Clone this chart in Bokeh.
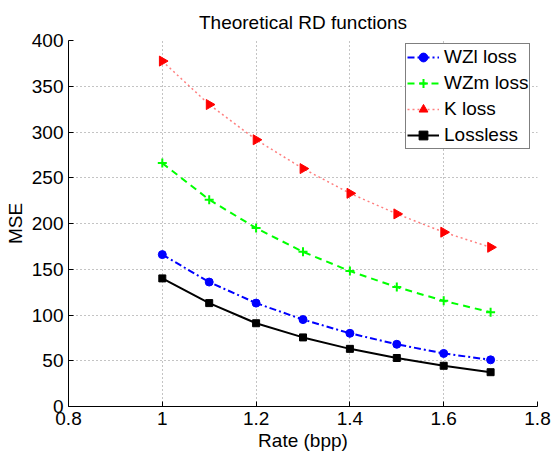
import math
from bokeh.plotting import figure
from bokeh.models import Range1d, FixedTicker, Legend
from bokeh.embed import file_html
from bokeh.resources import INLINE

rate = [1.0, 1.1, 1.2, 1.3, 1.4, 1.5, 1.6, 1.7]
wzl_loss = [166, 136, 113, 95, 80, 68, 58, 51]
wzm_loss = [266, 226, 195, 169, 148, 130.5, 115.5, 103]
k_loss = [377.5, 330, 291.5, 260, 233, 210.5, 190.5, 174]
lossless = [140, 113, 91, 75.5, 63, 53, 44.5, 37.5]
x_ticks = [0.8, 1.0, 1.2, 1.4, 1.6, 1.8]
y_ticks = [0, 50, 100, 150, 200, 250, 300, 350, 400]

FONT = "Liberation Sans"
FS = "19px"

p = figure(width=551, height=456, output_backend="svg", toolbar_location=None,
           x_range=Range1d(0.8, 1.8), y_range=Range1d(0, 400),
           min_border_left=68, min_border_right=14, min_border_top=40, min_border_bottom=50)

p.title.text = "Theoretical RD functions"
p.title.align = "center"
p.title.text_font = FONT
p.title.text_font_size = FS
p.title.text_font_style = "normal"
p.title.text_color = "black"
p.title.standoff = 16

p.outline_line_color = None

for ax, ticks in ((p.xaxis[0], x_ticks), (p.yaxis[0], y_ticks)):
    ax.ticker = FixedTicker(ticks=ticks)
    ax.major_tick_in = 5
    ax.major_tick_out = 0
    ax.minor_tick_in = 0
    ax.minor_tick_out = 0
    ax.major_label_text_font = FONT
    ax.major_label_text_font_size = FS
    ax.major_label_text_color = "black"
    ax.axis_label_text_font = FONT
    ax.axis_label_text_font_size = FS
    ax.axis_label_text_font_style = "normal"
    ax.axis_label_text_color = "black"
    ax.axis_line_color = "black"
    ax.major_tick_line_color = "black"

p.xaxis[0].axis_label = "Rate (bpp)"
p.yaxis[0].axis_label = "MSE"
p.xaxis[0].major_label_standoff = 5
p.xaxis[0].axis_label_standoff = 2
p.yaxis[0].major_label_standoff = 5
p.yaxis[0].axis_label_standoff = 3
p.xaxis[0].major_label_overrides = {0.8: "0.8", 1.0: "1", 1.2: "1.2", 1.4: "1.4", 1.6: "1.6", 1.8: "1.8"}

p.xgrid.ticker = FixedTicker(ticks=x_ticks)
p.ygrid.ticker = FixedTicker(ticks=y_ticks)
for g in (p.xgrid, p.ygrid):
    g.grid_line_color = "#888888"
    g.grid_line_dash = "1 3"
    g.grid_line_width = 1

l1 = p.line(rate, wzl_loss, color="blue", line_width=2, line_dash="7 3 2 3")
m1 = p.scatter(rate, wzl_loss, marker="circle", size=8, color="blue")
l2 = p.line(rate, wzm_loss, color="#00ff00", line_width=2, line_dash="7 5")
m2 = p.scatter(rate, wzm_loss, marker="cross", size=9, color="#00ff00", line_width=2)
l3 = p.line(rate, k_loss, color="red", line_width=1.5, line_dash="2 3", line_alpha=0.5)
m3 = p.scatter(rate, k_loss, marker="triangle", size=10, color="red", angle=-math.pi / 2)
l4 = p.line(rate, lossless, color="black", line_width=2)
m4 = p.scatter(rate, lossless, marker="square", size=7, color="black")

legend = Legend(items=[("WZl loss", [l1, m1]), ("WZm loss", [l2, m2]),
                       ("K loss", [l3, m3]), ("Lossless", [l4, m4])],
                location=(337, 257), margin=0)
legend.border_line_color = "black"
legend.border_line_width = 1
legend.background_fill_alpha = 1
legend.label_text_font = FONT
legend.label_text_font_size = FS
legend.label_text_color = "black"
legend.glyph_width = 32
legend.spacing = 2
legend.padding = 1
legend.label_standoff = 5
legend.label_height = 24
legend.glyph_height = 22
p.add_layout(legend, "center")

out = file_html(p, INLINE)
open("out.html", "w").write(out)
